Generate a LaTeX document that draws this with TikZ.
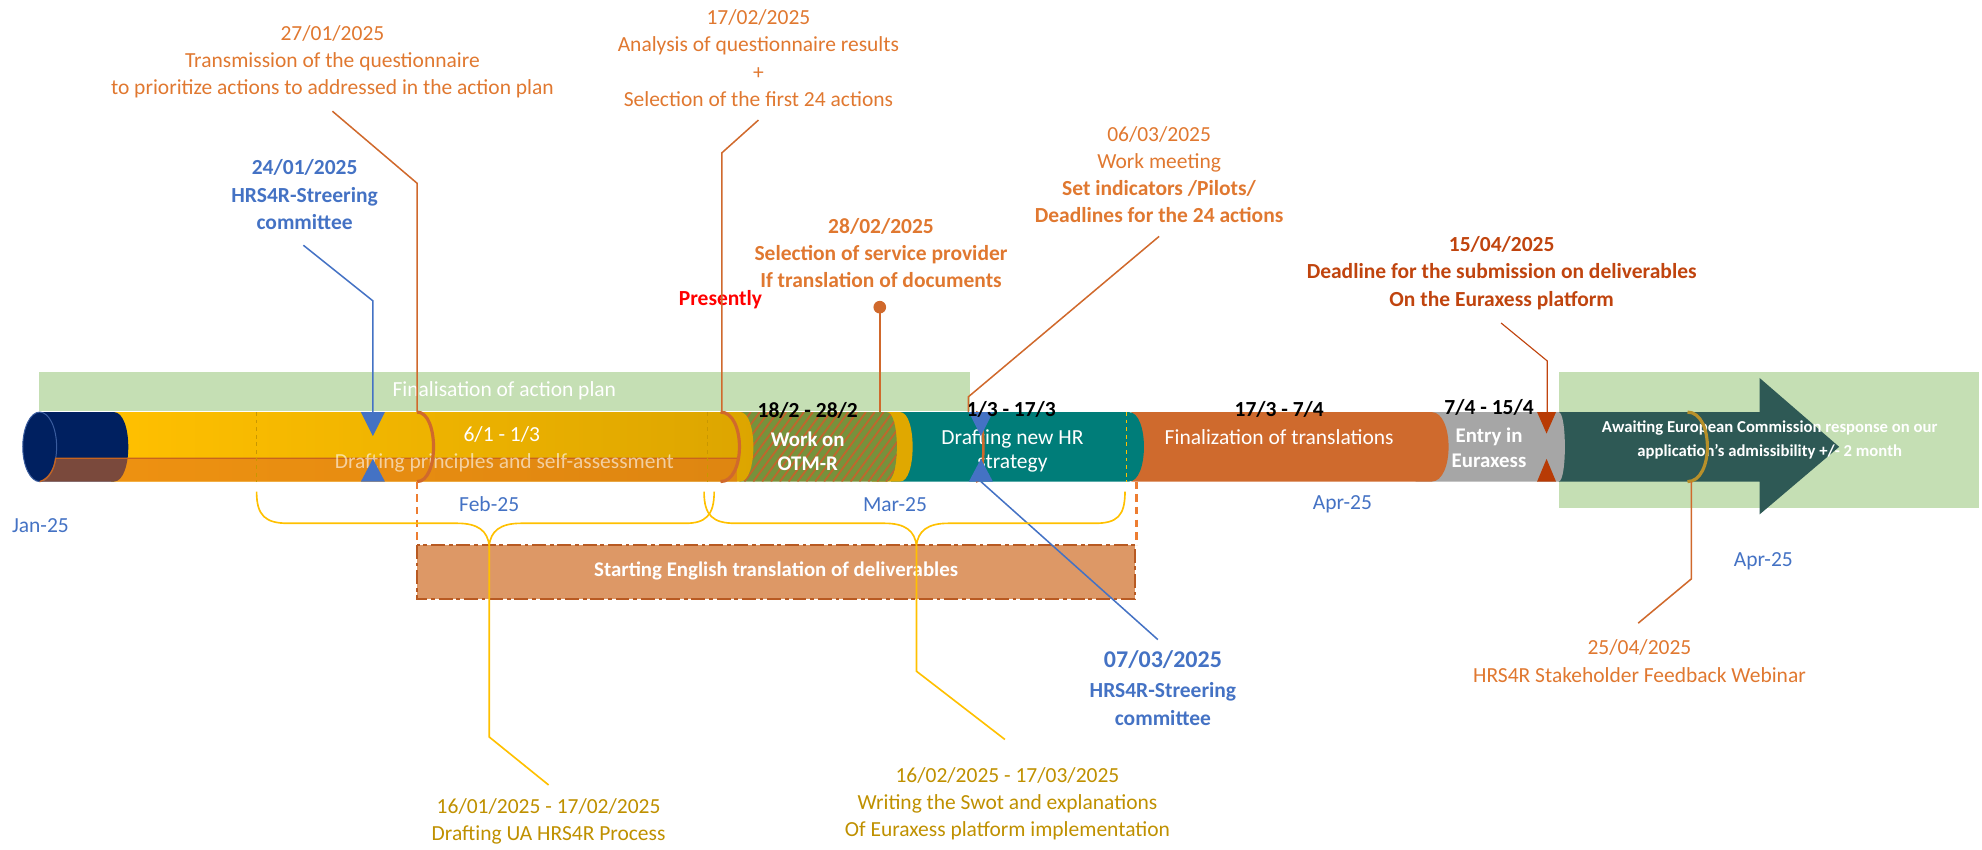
\documentclass[tikz,border=0pt]{standalone}
\usepackage{fontspec}
\setmainfont{Carlito}
\definecolor{cNavy}{HTML}{002060}
\definecolor{cNavyRim}{HTML}{3A5C9E}
\definecolor{cYlwA}{HTML}{FFC000}
\definecolor{cYlwB}{HTML}{DCA500}
\definecolor{cYlwD}{HTML}{E0A800}
\definecolor{cYlwDash}{HTML}{C99700}
\definecolor{cOlive}{HTML}{76923C}
\definecolor{cStripe}{HTML}{C0662C}
\definecolor{cTeal}{HTML}{007D79}
\definecolor{cOrgSeg}{HTML}{CF6A2D}
\definecolor{cGray}{HTML}{A6A6A6}
\definecolor{cArrow}{HTML}{2E5955}
\definecolor{cGreen}{HTML}{C5DFB4}
\definecolor{cBoxFill}{HTML}{DD9866}
\definecolor{cBoxLine}{HTML}{B85A22}
\definecolor{cTxtOrange}{HTML}{E07830}
\definecolor{cLineOrange}{HTML}{D0692C}
\definecolor{cDash}{HTML}{ED7D31}
\definecolor{cTxtRed}{HTML}{C0440E}
\definecolor{cBlue}{HTML}{4472C4}
\definecolor{cDkYellow}{HTML}{BF9000}
\definecolor{cBand}{HTML}{E06C20}
\definecolor{cBandLine}{HTML}{C8641E}
\definecolor{cGolden}{HTML}{B8902A}
\definecolor{cRedTri}{HTML}{B83B05}
\newcommand\tubeseg[4]{\path[#4] (#1,326) -- (#2,326) .. controls ({#2+1.333*#3},326) and ({#2+1.333*#3},381) .. (#2,381) -- (#1,381) -- cycle;}
\begin{document}
\begin{tikzpicture}[x=1pt,y=-1pt,
  lbl/.style={align=center, inner sep=0pt, font=\fontsize{17}{21.5}\selectfont},
  lblb/.style={align=center, inner sep=0pt, font=\fontsize{17}{21.5}\selectfont\bfseries},
  conn/.style={line width=1.2pt},
  brace/.style={cYlwA, line width=1.3pt},
  odash/.style={cDash, line width=1.8pt, dash pattern=on 6pt off 4pt}]
\useasboundingbox (0,0) rectangle (1568,672);
% green boxes
\fill[cGreen] (31,294) rectangle (767,325);
\node[lbl, text=white] (fin) at (399,309) {Finalisation of action plan};
\fill[cGreen] (1233,294) rectangle (1566,402);
% arrow
\fill[cArrow] (1233,326) -- (1392,326) -- (1392,299) -- (1455,353.5) -- (1392,407) -- (1392,381) -- (1233,381) -- cycle;
% tube segments, right to left
\tubeseg{1120}{1233}{5}{fill=cGray}
\tubeseg{895}{1132.5}{13.5}{fill=cOrgSeg}
\tubeseg{705}{893}{12}{fill=cTeal}
\tubeseg{690}{712}{10}{fill=cYlwD}
\tubeseg{585}{701.5}{8}{fill=cOlive}
\begin{scope}
\clip (585,326) -- (701.5,326) .. controls (712.2,326) and (712.2,381) .. (701.5,381) -- (585,381) -- cycle;
\foreach \k in {540,547,...,720} \draw[cStripe, line width=1.4pt] (\k,381) -- ++(40,-55);
\end{scope}
\tubeseg{88}{585.5}{10.5}{left color=cYlwA, right color=cYlwB}
\tubeseg{31}{90}{11.5}{fill=cNavy}
\filldraw[fill=cNavy, draw=cNavyRim, line width=0.8pt] (31.4,353.5) ellipse [x radius=13.4, y radius=27.5];
% translucent lower band
\path[fill=cBand, fill opacity=0.55] (44,362.5) -- (583,362.5) -- (583,381) -- (31.4,381) .. controls (38,379) and (43,372) .. (44,362.5) -- cycle;
\draw[cBandLine, line width=1pt] (31.4,381) .. controls (38,379) and (43,372) .. (44,362.5) -- (583,362.5);
% dashed lines in tube
\draw[cYlwDash, dashed, line width=1pt] (203,326) -- (203,381);
\draw[cYlwDash, dashed, line width=1pt] (560,326) -- (560,381);
\draw[cYlwA, dashed, line width=1pt] (891,326) -- (891,381);
% tube texts
\node[lbl, text=white] (d61) at (397,344) {6/1 - 1/3};
\node[lbl, text=white, text opacity=0.6] (dps) at (399,366) {Drafting principles and self-assessment};
\node[lblb, text=white, font=\fontsize{16.5}{19}\selectfont\bfseries] (otm) at (639,357) {Work on\\OTM-R};
\node[lbl, text=white, font=\fontsize{17}{19}\selectfont] (dhr) at (801,357) {Drafting new HR\\strategy};
\node[lbl, text=white] (fot) at (1012,346) {Finalization of translations};
\node[lblb, text=white, font=\fontsize{16.5}{20}\selectfont\bfseries] (eie) at (1178,354) {Entry in\\Euraxess};
\node[align=center, inner sep=0pt, text=white, font=\fontsize{13.2}{19}\selectfont\bfseries] (await) at (1400,348) {Awaiting European Commission response on our\\application’s admissibility +/- 2 month};
% markers on the tube
\draw[cLineOrange, line width=2.5pt] (330,326) .. controls (347.3,326) and (347.3,381) .. (330,381);
\draw[cLineOrange, line width=2.5pt] (570,326) .. controls (590,326) and (590,381) .. (570,381);
\draw[cLineOrange, line width=2pt] (772,326) .. controls (780,326) and (780,381) .. (772,381);
\draw[cGolden, line width=2.5pt] (1335,326) .. controls (1356,326) and (1356,381) .. (1335,381);
\fill[cBlue] (285.5,326) -- (304.5,326) -- (295,345) -- cycle;
\fill[cBlue] (285.5,381) -- (304.5,381) -- (295,363) -- cycle;
\fill[cBlue] (766.5,326) -- (785.5,326) -- (776,345) -- cycle;
\fill[cBlue] (766.5,381) -- (785.5,381) -- (776,363) -- cycle;
\fill[cRedTri] (1216,326) -- (1231,326) -- (1223.5,343) -- cycle;
\fill[cRedTri] (1216,381) -- (1231,381) -- (1223.5,363) -- cycle;
% date texts above segments
\node[lblb] (d182) at (639,325) {18/2 - 28/2};
\node[lblb] (d13) at (800,324) {1/3 - 17/3};
\node[lblb] (d173) at (1012,324) {17/3 - 7/4};
\node[lblb] (d74) at (1178,322) {7/4 - 15/4};
% top labels
\node[lbl, text=cTxtOrange] (l2701) at (263,49) {27/01/2025\\Transmission of the questionnaire\\to prioritize actions to addressed in the action plan};
\node[lbl, text=cTxtOrange] (l1702) at (600,46) {17/02/2025\\Analysis of questionnaire results\\+\\Selection of the first 24 actions};
\node[lblb, text=cBlue] (l2401) at (241,154) {24/01/2025\\HRS4R-Streering\\committee};
\node[lblb, text=cTxtOrange] (l2802) at (697,200) {28/02/2025\\Selection of service provider\\If translation of documents};
\node[lbl, text=cTxtOrange] (l0603) at (917,138) {06/03/2025\\Work meeting\\\textbf{Set indicators /Pilots/}\\\textbf{Deadlines for the 24 actions}};
\node[lblb, text=cTxtRed] (l1504) at (1188,216) {15/04/2025\\Deadline for the submission on deliverables\\On the Euraxess platform};
\node[lblb, text=red] (pres) at (570,237) {Presently};
% bottom labels
\node[lblb, text=cBlue, font=\fontsize{19}{23}\selectfont\bfseries] (l0703d) at (920,522) {07/03/2025};
\node[lblb, text=cBlue] (l0703) at (920,557) {HRS4R-Streering\\committee};
\node[lbl, text=cDkYellow] (l1601) at (434,650) {16/01/2025 - 17/02/2025\\Drafting UA HRS4R Process};
\node[lbl, text=cDkYellow] (l1602) at (797,636) {16/02/2025 - 17/03/2025\\Writing the Swot and explanations\\Of Euraxess platform implementation};
\node[lbl, text=cTxtOrange] (l2504) at (1297,523) {25/04/2025\\HRS4R Stakeholder Feedback Webinar};
% months
\node[lbl, text=cBlue] (jan) at (32,416) {Jan-25};
\node[lbl, text=cBlue] (feb) at (387,399) {Feb-25};
\node[lbl, text=cBlue] (mar) at (708,399) {Mar-25};
\node[lbl, text=cBlue] (apr) at (1062,399) {Apr-25};
\node[lbl, text=cBlue] (apr2) at (1395,444) {Apr-25};
% translation box
\draw[fill=cBoxFill, draw=cBoxLine, line width=1.8pt, dash pattern=on 11pt off 3pt on 3pt off 3pt] (330,431) rectangle (898,474);
\node[lblb, text=white, font=\fontsize{16.5}{19}\selectfont\bfseries] (ste) at (614,452) {Starting English translation of deliverables};
\draw[odash] (330,381) -- (330,431);
\draw[odash] (899,381) -- (899,431);
% connectors
\coordinate (a1) at (263,88); \coordinate (a2) at (330,145); \coordinate (a3) at (330,326);
\draw[conn, cLineOrange] (a1) -- (a2) -- (a3);
\coordinate (b1) at (600,95); \coordinate (b2) at (571,121); \coordinate (b3) at (571,326);
\draw[conn, cLineOrange] (b1) -- (b2) -- (b3);
\coordinate (c1) at (240,194); \coordinate (c2) at (295,238); \coordinate (c3) at (295,326);
\draw[conn, cBlue] (c1) -- (c2) -- (c3);
\coordinate (e1) at (696,243); \coordinate (e2) at (696,326);
\draw[conn, cLineOrange] (e1) -- (e2);
\fill[cLineOrange] (e1) circle [radius=5];
\coordinate (f1) at (917,187); \coordinate (f2) at (766,314); \coordinate (f3) at (766,326);
\draw[conn, cLineOrange] (f1) -- (f2) -- (f3);
\coordinate (g1) at (776,381); \coordinate (g2) at (916,506);
\draw[conn, cBlue] (g1) -- (g2);
\coordinate (h1) at (1187.5,255.5); \coordinate (h2) at (1224,285.5); \coordinate (h3) at (1224,326);
\draw[line width=0.9pt, cTxtRed] (h1) -- (h2) -- (h3);
\coordinate (k1) at (1338,381); \coordinate (k2) at (1338,458); \coordinate (k3) at (1296,493);
\draw[conn, cLineOrange] (k1) -- (k2) -- (k3);
% braces
\draw[brace] (203,389) .. controls (203,408) and (210,414) .. (228,414) -- (362,414) .. controls (378,414) and (386,420) .. (387,432) .. controls (388,420) and (396,414) .. (412,414) -- (542,414) .. controls (558,414) and (565,408) .. (565,389);
\draw[brace] (557,389) .. controls (557,408) and (564,414) .. (582,414) -- (700,414) .. controls (716,414) and (724,420) .. (725,432) .. controls (726,420) and (734,414) .. (750,414) -- (866,414) .. controls (884,414) and (890,408) .. (890,389);
\coordinate (m1) at (387,432); \coordinate (m2) at (387,583); \coordinate (m3) at (434,621);
\draw[brace] (m1) -- (m2) -- (m3);
\coordinate (n1) at (725,432); \coordinate (n2) at (725,531); \coordinate (n3) at (795,585);
\draw[brace] (n1) -- (n2) -- (n3);
\end{tikzpicture}
\end{document}
